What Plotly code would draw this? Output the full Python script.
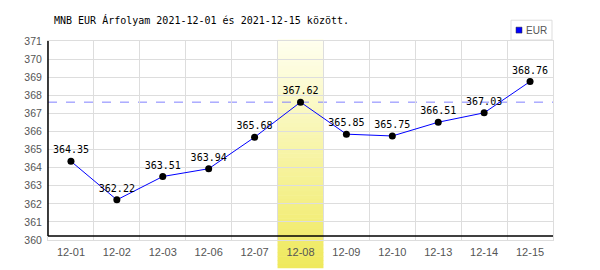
import plotly.graph_objects as go

dates = ["12-01", "12-02", "12-03", "12-06", "12-07", "12-08",
         "12-09", "12-10", "12-13", "12-14", "12-15"]
eur = [364.35, 362.22, 363.51, 363.94, 365.68, 367.62,
       365.85, 365.75, 366.51, 367.03, 368.76]
highlight = "12-08"
y_ticks = list(range(360, 372))
title_text = "MNB EUR Árfolyam 2021-12-01 és 2021-12-15 között."
series_name = "EUR"

W, H = 600, 270
L, R, T, B = 48, 47, 41, 28
PW, PH = W - L - R, H - T - B

def px_x(px):
    return (px - L) / PW

def px_y(py):
    return (H - B - py) / PH

fig = go.Figure()
fig.add_trace(go.Scatter(
    x=dates, y=eur, mode="lines+markers+text",
    text=[f"{v:.2f}" for v in eur], textposition="top center",
    textfont=dict(family="DejaVu Sans Mono", size=10, color="#000"),
    line=dict(color="#0000ff", width=1),
    marker=dict(color="#000", size=7),
    cliponaxis=False, showlegend=False, name=series_name,
))

shapes = []
# highlight band gradient (column of highlighted category)
hi = dates.index(highlight)
n = len(dates)
bx0 = (hi) / n
bx1 = (hi + 1) / n
top_py, bot_py = 39, 270
steps = 60
c0 = (255, 255, 240)
c1 = (239, 233, 92)
for i in range(steps):
    ya = top_py + (bot_py - top_py) * i / steps
    yb = top_py + (bot_py - top_py) * (i + 1) / steps
    t = (i + 0.5) / steps
    c = tuple(round(c0[k] + (c1[k] - c0[k]) * t) for k in range(3))
    shapes.append(dict(type="rect", xref="paper", yref="paper",
                       x0=bx0, x1=bx1, y0=px_y(yb + 0.5), y1=px_y(ya),
                       fillcolor=f"rgb{c}", line=dict(width=0), layer="between"))

# reference dashed line at highlighted value
shapes.append(dict(type="line", xref="paper", yref="y", x0=0, x1=1,
                   y0=eur[hi], y1=eur[hi],
                   line=dict(color="#8080ff", width=1, dash="dash"), layer="between"))
# black x axis line
shapes.append(dict(type="line", xref="paper", yref="paper", x0=0, x1=1,
                   y0=px_y(238), y1=px_y(238), line=dict(color="#000", width=1.5)))
# black y axis line
shapes.append(dict(type="line", xref="paper", yref="paper", x0=0, x1=0,
                   y0=px_y(238), y1=1, line=dict(color="#000", width=1.5)))
# legend box
shapes.append(dict(type="rect", xref="paper", yref="paper",
                   x0=px_x(511), x1=px_x(552), y0=px_y(40), y1=px_y(20),
                   line=dict(color="#dddddd", width=1), fillcolor="white"))
shapes.append(dict(type="rect", xref="paper", yref="paper",
                   x0=px_x(516), x1=px_x(522), y0=px_y(33), y1=px_y(27),
                   line=dict(color="#333", width=0.5), fillcolor="#0000ff"))

annotations = [
    dict(text=title_text, xref="paper", yref="paper", x=px_x(52), y=px_y(20),
         xanchor="left", yanchor="middle", showarrow=False,
         font=dict(family="DejaVu Sans Mono", size=10, color="#000")),
    dict(text=series_name, xref="paper", yref="paper", x=px_x(524), y=px_y(30),
         xanchor="left", yanchor="middle", showarrow=False,
         font=dict(family="Liberation Sans", size=10, color="#555")),
]

fig.update_layout(
    width=W, height=H, margin=dict(l=L, r=R, t=T, b=B),
    paper_bgcolor="white", plot_bgcolor="white",
    shapes=shapes, annotations=annotations, showlegend=False,
    xaxis=dict(type="category", categoryorder="array", categoryarray=dates,
               range=[-0.5, n - 0.5], tickson="boundaries", showgrid=True,
               gridcolor="#dddddd", gridwidth=1, ticks="", showline=True,
               linecolor="#dddddd", mirror=True, zeroline=False,
               tickfont=dict(family="Liberation Sans", size=11, color="#555"),
               ticklabelstandoff=2),
    yaxis=dict(range=[y_ticks[0], y_ticks[-1]], tickvals=y_ticks,
               showgrid=True, gridcolor="#dddddd", gridwidth=1, ticks="",
               showline=True, linecolor="#dddddd", mirror=True, zeroline=False,
               tickfont=dict(family="Liberation Sans", size=10.5, color="#555"),
               ticklabelstandoff=3),
)

fig.write_html("out.html")
